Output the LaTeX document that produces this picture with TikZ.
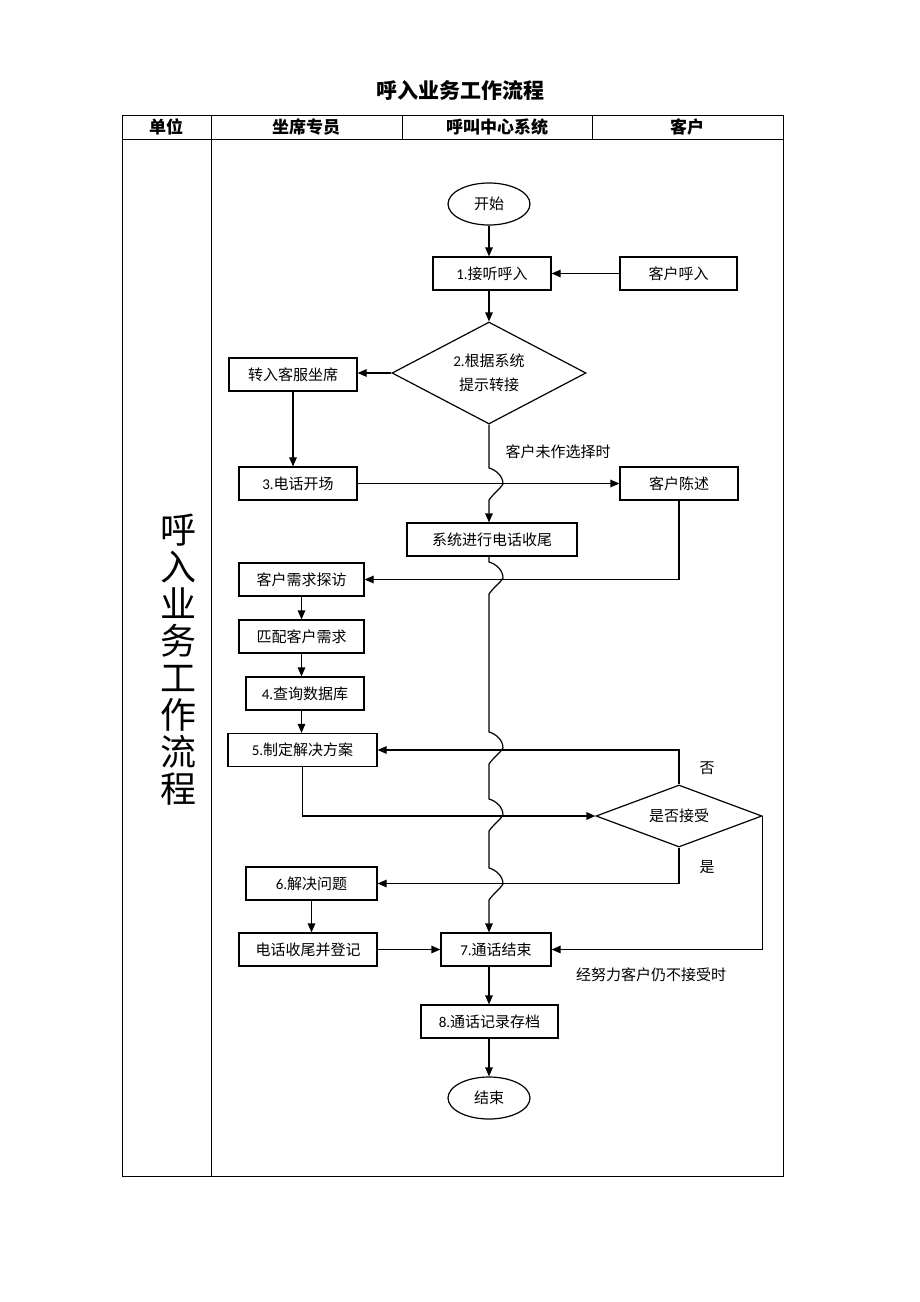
\documentclass[tikz,border=0pt]{standalone}
\usepackage{fontspec}
\setmainfont{Carlito}
\newfontfamily\cjk{Noto Sans CJK SC}
\usetikzlibrary{shapes.geometric,arrows.meta,calc}
\newcommand\hopat[1]{-- (489,#1-16) .. controls (496,#1-14) and (503,#1-8) .. (503,#1) .. controls (501,#1+4) and (493,#1+10) .. (489,#1+16)}
\begin{document}
\begin{tikzpicture}[x=1pt,y=-1pt,
  every node/.style={font=\fontsize{15}{18}\selectfont\cjk},
  box/.style={draw,line width=1.2pt,inner sep=0pt,minimum height=33pt},
  term/.style={draw,line width=1.2pt,ellipse,inner sep=0pt,minimum width=82pt,minimum height=42pt},
  dia/.style={draw,line width=1.2pt,diamond,inner sep=0pt,align=center},
  arr/.style={line width=1.2pt,-{Triangle[length=9pt,width=7.5pt]}},
  tab/.style={line width=0.8pt},
  hdr/.style={font=\fontsize{17}{20}\selectfont\cjk\bfseries},
  lbl/.style={font=\fontsize{15}{18}\selectfont\cjk}
]
\useasboundingbox (0,0) rectangle (920,1302);
\fill[white] (0,0) rectangle (920,1302);
% title and table
\node[font=\fontsize{21}{24}\selectfont\cjk\bfseries] (title) at (460,90) {呼入业务工作流程};
\draw[tab] (122,115) rectangle (783,1176);
\draw[tab] (122,139) -- (783,139);
\draw[tab] (211,115) -- (211,1176);
\draw[tab] (402,115) -- (402,139);
\draw[tab] (592,115) -- (592,139);
\node[hdr] (h1) at (166,127) {单位};
\node[hdr] (h2) at (306,127) {坐席专员};
\node[hdr] (h3) at (497,127) {呼叫中心系统};
\node[hdr] (h4) at (687,127) {客户};
\node[font=\fontsize{36}{37}\selectfont\cjk,align=center] (big) at (178,660) {呼\\入\\业\\务\\工\\作\\流\\程};
% nodes
\coordinate (vx) at (489,0);
\node[term] (start) at (489,204) {开始};
\node[box,minimum width=118pt] (n1) at (492,273.5) {{\rmfamily 1.}接听呼入};
\node[box,minimum width=117pt] (c1) at (678.5,273.5) {客户呼入};
\node[dia,shape aspect=1.9,minimum width=194pt,minimum height=102pt,font=\fontsize{15}{24}\selectfont\cjk] (d2) at (489,373) {{\rmfamily 2.}根据系统\\提示转接};
\node[box,minimum width=128pt] (zr) at (293,374.5) {转入客服坐席};
\node[box,minimum width=118pt] (n3) at (298,483.5) {{\rmfamily 3.}电话开场};
\node[box,minimum width=118pt] (c2) at (679,483.5) {客户陈述};
\node[box,minimum width=170pt] (sys) at (492,539.5) {系统进行电话收尾};
\node[box,minimum width=125pt] (k1) at (301.5,579.5) {客户需求探访};
\node[box,minimum width=125pt] (k2) at (301.5,636.5) {匹配客户需求};
\node[box,minimum width=118pt] (n4) at (305,693.5) {{\rmfamily 4.}查询数据库};
\node[box,minimum width=149pt] (n5) at (302.5,750) {{\rmfamily 5.}制定解决方案};
\node[dia,shape aspect=2.68,minimum width=166pt,minimum height=62pt] (d6) at (679,816) {是否接受};
\node[box,minimum width=131pt] (n6) at (311.5,883.5) {{\rmfamily 6.}解决问题};
\node[box,minimum width=138pt] (k3) at (308,949.5) {电话收尾并登记};
\node[box,minimum width=110pt] (n7) at (496,949.5) {{\rmfamily 7.}通话结束};
\node[box,minimum width=137pt] (n8) at (489.5,1021.5) {{\rmfamily 8.}通话记录存档};
\node[term] (end) at (489,1098) {结束};
% labels
\node[lbl] (l1) at (558,452) {客户未作选择时};
\node[lbl] (l2) at (707,768) {否};
\node[lbl] (l3) at (707,867) {是};
\node[lbl] (l4) at (651,975) {经努力客户仍不接受时};
% connectors
\draw[arr] (start.south) -- (start.south |- n1.north);
\draw[arr] (c1.west) -- (n1.east);
\draw[arr] (d2.north |- n1.south) -- (d2.north);
\draw[arr] (d2.west) -- (d2.west -| zr.east);
\draw[arr] (zr.south) -- (zr.south |- n3.north);
\draw[arr] (n3.east) -- (c2.west);
\draw[arr] (d2.south) \hopat{484} -- (vx |- sys.north);
\draw[arr] (c2.south) |- (k1.east);
\draw[arr] (vx |- sys.south) \hopat{578} \hopat{748} \hopat{815} \hopat{884} -- (vx |- n7.north);
\draw[arr] (k1.south) -- (k2.north);
\draw[arr] (k2.south) -- (k2.south |- n4.north);
\draw[arr] (k2.south |- n4.south) -- (k2.south |- n5.north);
\draw[arr] (d6.north) |- (n5.east);
\draw[arr] (n5.south) |- (d6.west);
\draw[arr] (d6.south) |- (n6.east);
\draw[arr] (n6.south) -- (n6.south |- k3.north);
\draw[arr] (k3.east) -- (n7.west);
\draw[arr] (d6.east) |- (n7.east);
\draw[arr] (vx |- n7.south) -- (vx |- n8.north);
\draw[arr] (vx |- n8.south) -- (end.north);
\end{tikzpicture}
\end{document}
